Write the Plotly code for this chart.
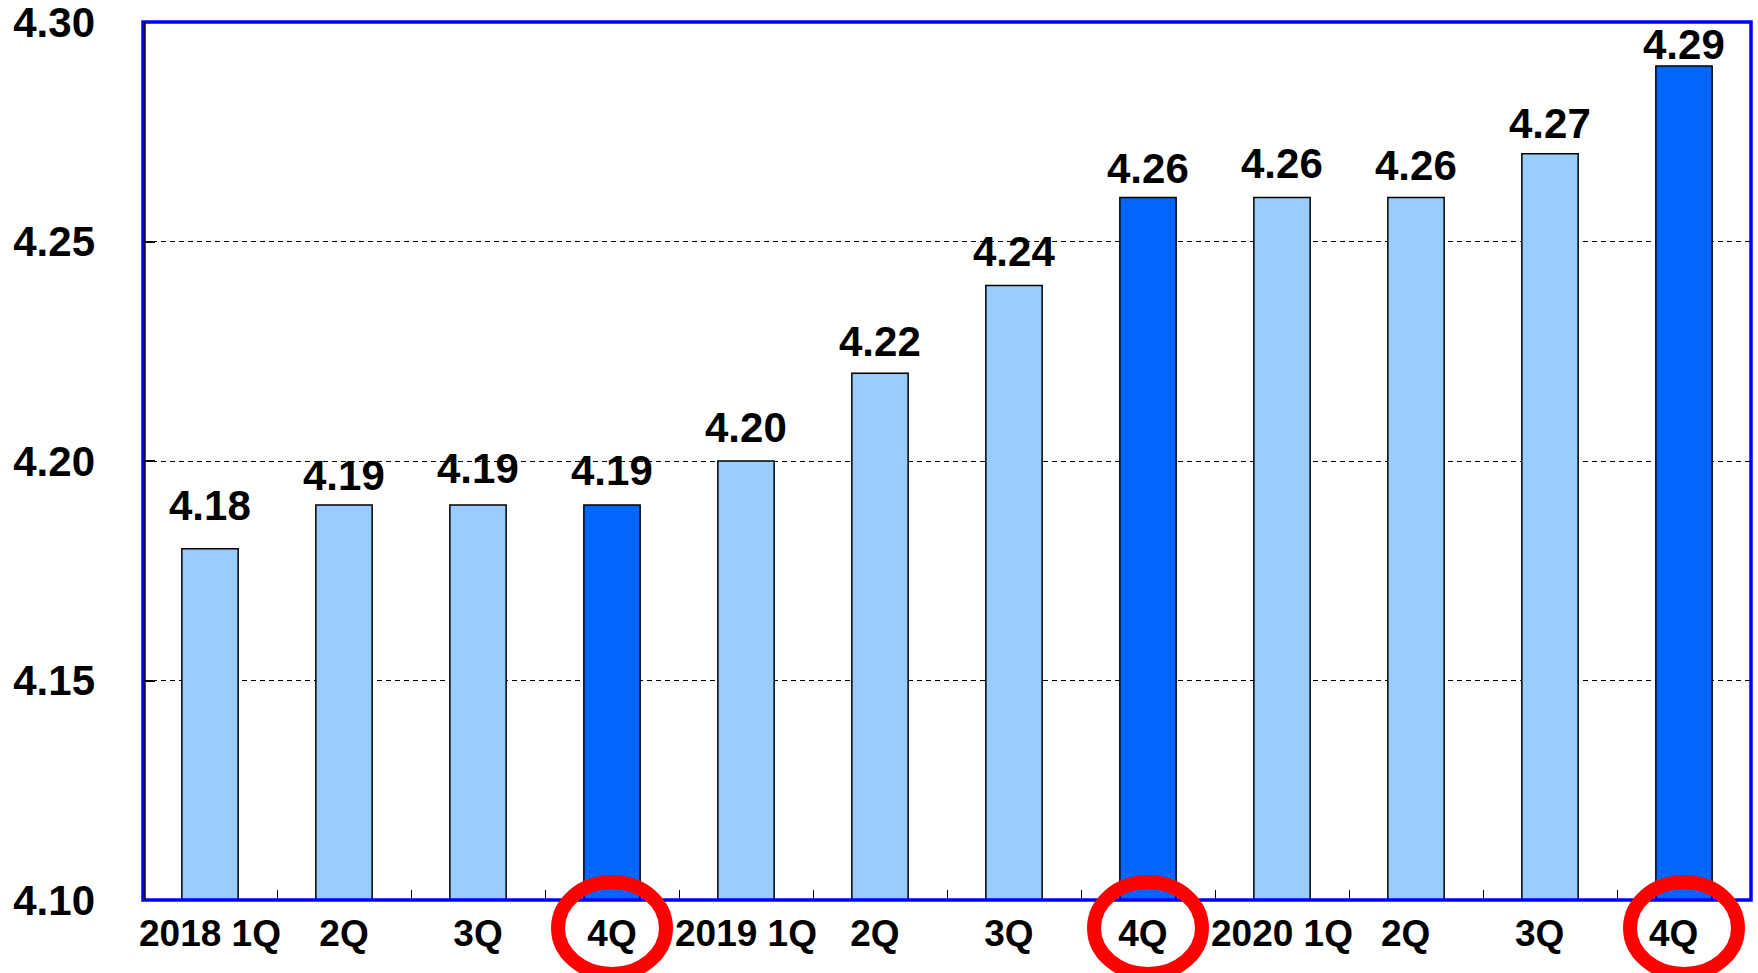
import plotly.graph_objects as go

# Quarterly values, 2018 1Q .. 2020 4Q
quarters = ["2018 1Q", "2Q", "3Q", "4Q",
            "2019 1Q", "2Q ", "3Q ", "4Q ",
            "2020 1Q", "2Q  ", "3Q  ", "4Q  "]
values = [4.18, 4.19, 4.19, 4.19, 4.20, 4.22, 4.24, 4.26, 4.26, 4.26, 4.27, 4.29]
value_labels = ["4.18", "4.19", "4.19", "4.19", "4.20", "4.22",
                "4.24", "4.26", "4.26", "4.26", "4.27", "4.29"]
y_ticks = [4.10, 4.15, 4.20, 4.25, 4.30]
y_tick_labels = ["4.10", "4.15", "4.20", "4.25", "4.30"]

# Year-end quarters are highlighted
is_year_end = [q.strip() == "4Q" for q in quarters]

# Styling
W, H = 1758, 973
M_L, M_R, M_T, M_B = 143, 7, 22, 73
LIGHT = "#99CCFF"
DARK = "#0066FF"
FONT = "Liberation Sans, Arial, sans-serif"
label_lift = [43, 29, 36, 34, 34, 32, 34, 29, 34, 32, 30, 21]  # px above bar top

plot_w = W - M_L - M_R
plot_h = H - M_T - M_B

fig = go.Figure()
fig.add_trace(go.Bar(
    x=quarters,
    y=[v - y_ticks[0] for v in values],
    base=y_ticks[0],
    marker=dict(color=[DARK if e else LIGHT for e in is_year_end],
                line=dict(color="black", width=1.5)),
    width=0.42,
    hoverinfo="skip",
))

for q, v, t, lift in zip(quarters, values, value_labels, label_lift):
    fig.add_annotation(x=q, y=v, text=t, showarrow=False, yanchor="middle",
                       yshift=lift, font=dict(family=FONT, size=42, color="black", weight="bold"))

fig.update_layout(
    width=W, height=H,
    margin=dict(l=M_L, r=M_R, t=M_T, b=M_B, pad=0, autoexpand=False),
    plot_bgcolor="white", paper_bgcolor="white",
    showlegend=False,
    bargap=0.58,
)

fig.update_xaxes(
    type="category",
    tickson="boundaries",
    ticks="inside", ticklen=10, tickwidth=1, tickcolor="black",
    showgrid=False, showline=False,
    tickangle=0, automargin=False,
    tickfont=dict(family=FONT, size=37, color="black", weight="bold"),
    ticklabelstandoff=8,
    range=[-0.5, len(quarters) - 0.5],
)
fig.update_yaxes(
    range=[y_ticks[0], y_ticks[-1] + 1e-6],
    tickvals=y_ticks, ticktext=y_tick_labels,
    ticks="inside", ticklen=12, tickwidth=1.5, tickcolor="black",
    showgrid=True, gridcolor="black", gridwidth=1.2, griddash="5px,4px",
    zeroline=False, showline=False, automargin=False,
    ticklabeloverflow="allow",
    tickfont=dict(family=FONT, size=42, color="black", weight="bold"),
    ticklabelstandoff=47,
)

# Blue frame round the plot area, black axis line just inside on the left
fig.add_shape(type="rect", xref="paper", yref="paper", x0=0, x1=1, y0=0, y1=1,
              line=dict(color="#0000FF", width=3.5), layer="above")
fig.add_shape(type="line", xref="paper", yref="paper",
              x0=2 / plot_w, x1=2 / plot_w, y0=0, y1=1,
              line=dict(color="black", width=1.5), layer="above")

# Red rings round the year-end quarter labels
ring_rx, ring_ry, ring_cy = 54, 46, 28   # px; centre is ring_cy px below the axis
n = len(quarters)
for i, e in enumerate(is_year_end):
    if not e:
        continue
    cx = (i + 0.5) / n
    cy = -ring_cy / plot_h
    fig.add_shape(type="circle", xref="paper", yref="paper",
                  x0=cx - ring_rx / plot_w, x1=cx + ring_rx / plot_w,
                  y0=cy - ring_ry / plot_h, y1=cy + ring_ry / plot_h,
                  line=dict(color="#FF0000", width=14), layer="above")

fig.write_html("out.html")
